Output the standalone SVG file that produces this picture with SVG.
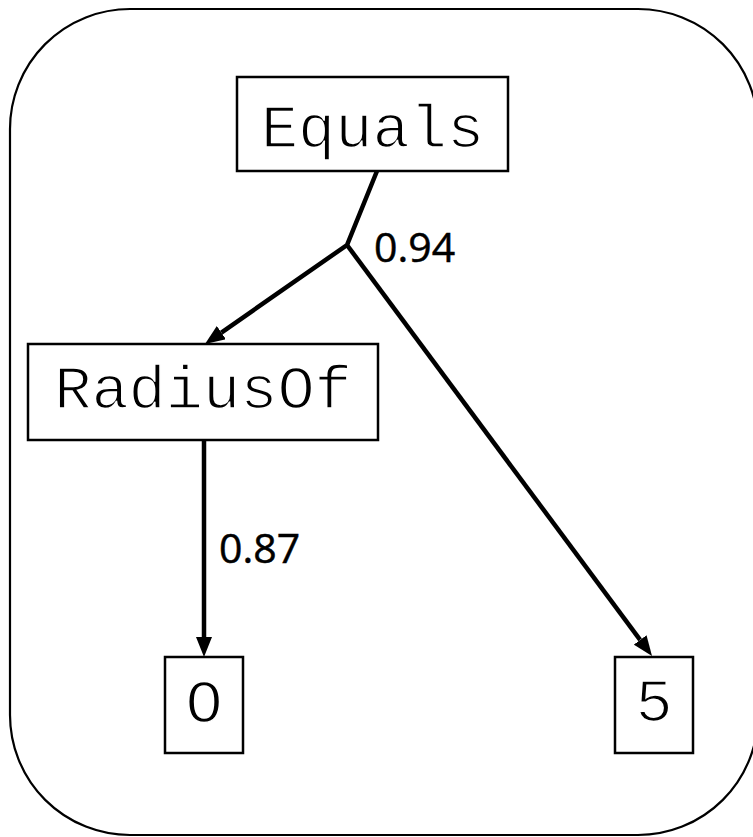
<svg xmlns="http://www.w3.org/2000/svg" width="753" height="837" viewBox="0 0 753 837">
  <style>
    .frame { fill: #ffffff; stroke: #000000; stroke-width: 2.2; }
    .box { fill: #ffffff; stroke: #000000; stroke-width: 2.5; }
    /* thin white outline keeps the mono glyphs light */
    .term { font-family: "Liberation Mono", "Courier New", monospace; font-size: 62px; fill: #000000; stroke: #ffffff; stroke-width: 1.6; text-anchor: middle; }
    .edge { fill: none; stroke: #000000; stroke-width: 4.5; }
    .weight { font-family: "Open Sans", "Noto Sans", sans-serif; font-size: 41px; fill: #000000; stroke: #000000; stroke-width: 0.5; }
  </style>
  <defs>
    <marker id="arrow" viewBox="0 0 20 16" refX="0" refY="8" markerWidth="20" markerHeight="16" markerUnits="userSpaceOnUse" orient="auto">
      <path d="M0,0 L20,8 L0,16 z" fill="#000000"/>
    </marker>
  </defs>

  <rect class="frame" x="10" y="9" width="748" height="826" rx="120" ry="120"/>

  <g id="connectors">
    <polyline class="edge" points="377,171 347,245 221.4,332.6" marker-end="url(#arrow)"/>
    <line class="edge" x1="347" y1="245" x2="640.1" y2="639.9" marker-end="url(#arrow)"/>
    <line class="edge" x1="204" y1="440" x2="204" y2="637" marker-end="url(#arrow)"/>
    <text class="weight" x="374" y="262">0.94</text>
    <text class="weight" x="219" y="563">0.87</text>
  </g>

  <g id="node-equals">
    <rect class="box" x="237" y="77" width="271" height="94"/>
    <text class="term" x="372.5" y="147">Equals</text>
  </g>

  <g id="node-radiusof">
    <rect class="box" x="28" y="344" width="350" height="96"/>
    <text class="term" x="203" y="408">RadiusOf</text>
  </g>

  <g id="node-o">
    <rect class="box" x="165" y="657" width="78" height="96"/>
    <text class="term" x="204" y="722">O</text>
  </g>

  <g id="node-5">
    <rect class="box" x="615" y="657" width="78" height="96"/>
    <text class="term" x="654" y="721">5</text>
  </g>
</svg>
